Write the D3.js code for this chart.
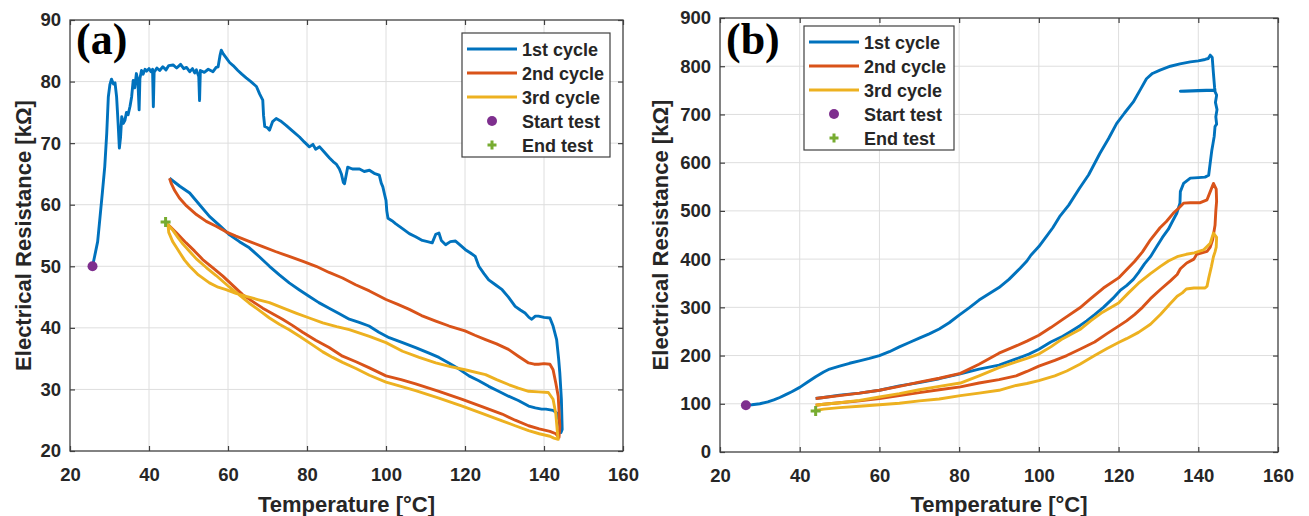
<!DOCTYPE html>
<html>
<head>
<meta charset="utf-8">
<script src="https://cdn.jsdelivr.net/npm/d3@7"></script>
<style>
  body { margin: 0; background: #fff; }
  svg { display: block; }
  text { font-family: "Liberation Sans", Arial, sans-serif; font-weight: bold; fill: #262626; }
</style>
</head>
<body>
<script>

// tick labels
var xTicks = [20, 40, 60, 80, 100, 120, 140, 160];
var yTicksA = [20, 30, 40, 50, 60, 70, 80, 90];
var yTicksB = [0, 100, 200, 300, 400, 500, 600, 700, 800, 900];
var legendLabels = ["1st cycle", "2nd cycle", "3rd cycle", "Start test", "End test"];

// panel (a) - [temperature, resistance kOhm]
var cycle1A = [[25.7,50],[26.2,51.5],[27,54],[27.6,58],[28.2,62],[28.8,66.2],[29.3,71.6],[29.7,77.5],[30.1,79.5],[30.5,80.4],[31,79.6],[31.4,79.8],[31.8,77.5],[32.2,73],[32.5,69.2],[32.8,71],[33.1,74.3],[33.5,73.2],[33.9,73.7],[34.3,75],[34.7,74.6],[35.2,76],[35.6,77.5],[36,80.2],[36.4,79],[36.8,81.3],[37.2,80],[37.5,75.4],[37.7,80.5],[38.1,81.8],[38.5,81.2],[39,82],[39.4,81.7],[40,82.1],[40.5,81.6],[40.9,82],[41.1,75.9],[41.3,81.5],[42,82.2],[42.7,81.8],[43.5,82.4],[44.3,81.9],[45,82.6],[46.1,82.7],[47,82.2],[48,82.8],[48.8,82.1],[49.5,82.3],[50.3,81.6],[51,82.1],[51.6,81.4],[52,81.9],[52.6,80.8],[52.8,76.9],[53,81.8],[54,81.5],[55,82],[56.2,81.6],[57,82.3],[57.5,82.4],[58,84.3],[58.3,85.1],[58.8,84.5],[59.6,83.8],[60.4,83.1],[61.3,82.6],[62.5,81.8],[63.5,81.2],[64.6,80.6],[65.8,80],[67.2,79.2],[68,78],[68.8,77],[69,74.5],[69.3,72.7],[70,72.5],[70.5,72.1],[71.3,73.5],[72.2,74],[73.3,73.6],[74.7,72.9],[76.3,72],[78.1,71],[79.3,70.2],[80.6,69.4],[81.5,69.8],[82.2,69],[83.2,69.4],[84.3,68.6],[85.7,67.6],[86.6,67],[87.4,66.6],[88.2,65.8],[88.7,65],[89.2,63.6],[89.5,63.4],[90.3,66.1],[91.5,65.8],[93.3,65.8],[94.5,65.4],[95.8,65.6],[97,65.1],[98.3,64.8],[98.8,63.5],[99.2,62.9],[99.7,61.5],[100,60.7],[100.2,59],[100.5,57.8],[101.5,57.4],[102.5,56.9],[104,56.2],[105.9,55.3],[107.5,54.8],[109.2,54.2],[110.5,54],[111.7,53.8],[112.6,55.2],[113.4,55.4],[114,54.2],[115.1,53.5],[116.3,54],[117.6,54.1],[118.5,53.6],[120.1,52.7],[121.3,52.2],[122.6,51.6],[123.5,50],[124.8,48.8],[126,47.8],[127.7,47],[129.4,46.2],[131,45],[132.7,43.5],[134,42.9],[135.2,42.4],[136.2,41.7],[136.9,41.4],[137.8,41.9],[138.6,41.9],[140,41.7],[141.5,41.6],[142.3,40.3],[143.2,38.1],[143.7,35],[144,32.7],[144.4,28.4],[144.6,23.5],[144.3,23],[143.8,25],[143.2,26.2],[142.3,26.6],[140.5,26.8],[139.4,26.8],[137.8,27],[136.1,27.3],[133.5,28.2],[131,28.9],[128.5,29.7],[126,30.5],[123.5,31.4],[121,32.2],[118.5,33.3],[115.9,34.3],[113.4,35.2],[110.9,35.9],[107.5,36.8],[104.2,37.6],[100.8,38.4],[98.2,39.3],[95.7,40.3],[93.2,40.9],[90.7,41.4],[88.2,42.3],[85.6,43.2],[83,44.1],[80.6,45.1],[78,46.2],[75.5,47.3],[73,48.6],[70.5,50],[68,51.5],[65.4,53],[62.9,54],[60.4,55.1],[57.9,56.6],[55.3,58.1],[52.8,60],[50.3,61.9],[47.8,63],[45.2,64.3]];

var cycle2A = [[45.2,64.3],[45.6,63.5],[46.5,62.3],[47.7,61.1],[49.5,59.8],[52,58.4],[54.5,57.3],[57,56.5],[59.5,55.6],[62,54.9],[65.5,54],[68.8,53.2],[72,52.4],[75.5,51.6],[79,50.8],[82.3,50],[85.6,49],[89,48.1],[92.3,47],[95.8,46],[100,44.6],[103,43.8],[105.9,43],[109,42],[112.6,41.1],[116,40.3],[120,39.5],[122.5,38.8],[125.2,38.1],[128,37.4],[131,36.5],[133.5,35.4],[136.1,34.3],[137.5,34.1],[138.6,34.1],[140,34.2],[141.5,34.1],[142.3,33.2],[143,31],[143.6,28.9],[144,24],[143.8,22.2],[143,22.8],[141.5,23.2],[138.8,23.6],[136.1,24.1],[132.7,25],[129.4,26],[124.3,27.2],[119.3,28.4],[113.4,29.7],[107.5,30.9],[103.8,31.6],[100,32.2],[95.8,33.5],[92.4,34.5],[89,35.4],[85.6,36.8],[82.2,38],[78.9,39.3],[76.3,40.4],[73.8,41.4],[71.3,42.3],[68.8,43.2],[66.2,44.3],[63.7,45.4],[61.2,46.9],[58.7,48.4],[56.1,49.8],[53.6,51.1],[51.5,52.5],[49.4,53.8],[47,55.4],[44.8,56.8]];

var cycle3A = [[44.8,56.8],[45,55.5],[46,54],[47,53],[47.8,52.2],[49,51],[50.3,50],[52.5,48.6],[55.3,47.3],[57.5,46.6],[59.5,46.2],[62,45.6],[64.6,45.1],[67.5,44.6],[70.5,44.1],[74,43.2],[77.2,42.4],[80.6,41.6],[84,40.8],[87.5,40.2],[90.7,39.7],[95.8,38.6],[100,37.6],[104.2,36.2],[108.4,35.2],[112.6,34.3],[116.3,33.7],[120,33.2],[125.2,32.4],[128,31.6],[131,30.8],[133.5,30.2],[136.1,29.7],[138.6,29.6],[141.1,29.5],[142.3,28.4],[143,26],[143.4,23],[143.6,21.9],[142.5,22.1],[141.5,22.4],[138.8,22.8],[136.1,23.3],[132.7,24.1],[129.4,24.9],[124.3,26.1],[119.3,27.3],[113.4,28.6],[107.5,29.8],[103.8,30.5],[100,31.2],[95.8,32.3],[92.4,33.4],[89,34.4],[86.5,35.2],[84,36.1],[81,37.4],[78.2,38.6],[75.5,39.7],[73,40.6],[70.5,41.6],[68,42.8],[65.4,44],[62.9,45.3],[60.4,46.6],[57,48.5],[54.5,49.8],[52,51.2],[50.3,52.4],[48.6,53.6],[47.3,54.7],[46.1,55.8],[44.2,57.2]];

var startA = [25.7, 50];
var endA = [44.2, 57.2];

// panel (b)
var cycle1B = [[26.5,97],[28,98],[30,100],[32,104],[33.5,108],[35,113],[36.5,119],[38,125],[40,134],[42,145],[44,156],[46,166],[47.5,172],[50,178],[52.5,184],[55,189],[57.5,194],[60,200],[62.5,208],[65,218],[67.5,227],[70,236],[72.5,245],[75,255],[77.5,268],[80,284],[82.5,299],[85,315],[87.5,328],[90,341],[92.5,358],[95.3,381],[97,396],[98,408],[100,426],[102,448],[103.5,465],[105.2,488],[107.5,512],[110.2,547],[112.5,575],[115.3,619],[117.5,650],[119.5,681],[121.5,703],[123.7,726],[125.5,752],[127,774],[128.5,785],[130.4,792],[133,800],[135.4,805],[138,809],[140,811],[141.7,814],[142.5,816],[143,823],[143.5,818],[143.8,785],[144.1,755],[144.2,750],[140,749],[136.5,748],[135.5,748],[140,750],[144,751],[144.6,740],[144.3,725],[144.7,710],[144.4,695],[144.6,680],[144.2,675],[144,655],[143.7,640],[143.4,626],[143,600],[142.6,574],[141.7,570],[140,569],[138,568],[136.3,557],[135.5,540],[135.4,516],[134.6,495],[133.5,478],[132.5,462],[131,445],[129.5,425],[128,405],[126.5,390],[125,372],[123.7,358],[122,345],[120.4,335],[118.5,318],[116.2,300],[114,285],[112,272],[110.3,262],[108,250],[106,240],[103,228],[100,213],[97.5,203],[94.3,193],[90,180],[85,172],[80.3,162],[75,152],[70,144],[65,137],[60,128],[55,122],[50,118],[46,113],[44,111]];

var cycle2B = [[44,111],[46,113],[50,117],[55,122],[60,128],[65,136],[70,145],[75,153],[80.3,163],[85,182],[90,205],[94.3,220],[97,230],[100,242],[103,258],[106,275],[110.3,299],[113,318],[116.2,340],[120,361],[122,378],[124,395],[126,415],[128,440],[130.4,465],[132,478],[133.7,495],[135,505],[136.3,516],[138,517],[140.5,517],[142.2,523],[143,540],[143.8,557],[144.5,545],[144.6,520],[144.4,500],[144.2,470],[143.6,440],[143,425],[142.2,416],[139.6,410],[138.9,400],[137.1,392],[135.5,380],[134.7,368],[133,355],[130.5,337],[128,318],[126,300],[124,285],[122,272],[120,261],[117,245],[114,228],[110.3,213],[107,200],[104,190],[100,178],[97,167],[94.3,158],[90,150],[85,143],[80.3,135],[75,129],[70,123],[65,117],[60,111],[55,106],[50,102],[46,99],[44,97]];

var cycle3B = [[44,97],[46,99],[50,102],[55,107],[60,114],[65,121],[70,129],[75,136],[80.3,143],[85,158],[90,175],[94.3,187],[97,194],[100,203],[103,218],[106,235],[110.3,254],[113,272],[116,290],[120,309],[122.5,330],[125,350],[128,370],[130.5,385],[132.5,396],[134.7,405],[137,410],[139,413],[141.3,419],[143,433],[143.8,454],[144.6,445],[144.5,425],[144.2,415],[143.8,405],[143.3,385],[142.6,360],[142.2,344],[141.7,340],[140,340],[138.9,340],[137,338],[136,330],[134.7,323],[133,308],[130.5,285],[128,265],[125,248],[122,235],[120,227],[117,214],[114,200],[110.3,182],[107,168],[104,158],[100,148],[97,142],[94.3,138],[90,128],[85,122],[80.3,117],[75,110],[70,106],[65,101],[60,98],[55,95],[50,92],[46,89],[44,86]];

var startB = [26.5, 97];
var endB = [44, 85];

var colors = ["#0072BD", "#D95319", "#EDB120", "#7E2F8E", "#77AC30"];

var w = 1309;
var h = 516;

var svg = d3.select("body")
  .append("svg")
  .attr("width", w)
  .attr("height", h);

// small "+" marker drawn with strokes
function plus(sel, cx, cy, r) {
  sel.append("path")
    .attr("d", "M" + (cx - r) + "," + cy + "H" + (cx + r) + "M" + cx + "," + (cy - r) + "V" + (cy + r))
    .attr("stroke", colors[4]).attr("stroke-width", 3).attr("fill", "none");
}

function drawPanel(p) {
  var x = d3.scaleLinear().domain([20, 160]).range([p.left, p.right]);
  var y = d3.scaleLinear().domain(p.yDomain).range([p.bottom, p.top]);
  var g = svg.append("g");

  // grid
  g.selectAll(".gx").data(xTicks.slice(1, -1)).enter().append("line")
    .attr("x1", function(d) { return x(d); }).attr("x2", function(d) { return x(d); })
    .attr("y1", p.top).attr("y2", p.bottom)
    .attr("stroke", "#dedede").attr("stroke-width", 1);
  g.selectAll(".gy").data(p.yTicks.slice(1, -1)).enter().append("line")
    .attr("y1", function(d) { return y(d); }).attr("y2", function(d) { return y(d); })
    .attr("x1", p.left).attr("x2", p.right)
    .attr("stroke", "#dedede").attr("stroke-width", 1);

  // axes, ticks pointing inside
  var ax = g.append("g").attr("transform", "translate(0," + p.bottom + ")")
    .call(d3.axisBottom(x).tickValues(xTicks).tickSize(-5).tickPadding(17));
  var ay = g.append("g").attr("transform", "translate(" + p.left + ",0)")
    .call(d3.axisLeft(y).tickValues(p.yTicks).tickSize(-5).tickPadding(9));
  var at = g.append("g").attr("transform", "translate(0," + p.top + ")")
    .call(d3.axisTop(x).tickValues(xTicks).tickSize(-5).tickFormat(""));
  var ar = g.append("g").attr("transform", "translate(" + p.right + ",0)")
    .call(d3.axisRight(y).tickValues(p.yTicks).tickSize(-5).tickFormat(""));
  [ax, ay, at, ar].forEach(function(a) {
    a.select(".domain").remove();
    a.selectAll("line").attr("stroke", "#404040").attr("stroke-width", 1.2);
    a.selectAll("text").attr("font-size", "18.5px").attr("fill", "#262626");
  });

  g.append("rect")
    .attr("x", p.left).attr("y", p.top)
    .attr("width", p.right - p.left).attr("height", p.bottom - p.top)
    .attr("fill", "none").attr("stroke", "#404040").attr("stroke-width", 1.3);

  // curves
  var line = d3.line()
    .x(function(d) { return x(d[0]); })
    .y(function(d) { return y(d[1]); });
  p.cycles.forEach(function(c, i) {
    g.append("path")
      .attr("d", line(c))
      .attr("fill", "none")
      .attr("stroke", colors[i])
      .attr("stroke-width", 2.9)
      .attr("stroke-linejoin", "round");
  });

  g.append("circle")
    .attr("cx", x(p.start[0])).attr("cy", y(p.start[1]))
    .attr("r", 5).attr("fill", colors[3]);
  plus(g, x(p.end[0]), y(p.end[1]), 5);

  // axis titles
  g.append("text")
    .attr("x", (p.left + p.right) / 2).attr("y", 512)
    .attr("text-anchor", "middle").attr("font-size", "22px")
    .text("Temperature [°C]");
  g.append("text")
    .attr("transform", "translate(" + p.yTitleX + "," + (p.top + p.bottom) / 2 + ") rotate(-90)")
    .attr("text-anchor", "middle").attr("font-size", "22px")
    .text("Electrical Resistance [kΩ]");

  // panel letter
  g.append("text")
    .attr("x", p.left + 6).attr("y", 54)
    .style("font-family", "'Liberation Serif', 'Times New Roman', serif")
    .style("fill", "#000")
    .attr("font-size", "44px")
    .text(p.letter);

  // legend
  var lg = g.append("g").attr("transform", "translate(" + p.legX + "," + p.legY + ")");
  lg.append("rect")
    .attr("width", p.legW).attr("height", 124)
    .attr("fill", "#fff").attr("stroke", "#404040").attr("stroke-width", 1.2);
  var items = lg.selectAll(".item").data(legendLabels).enter().append("g")
    .attr("transform", function(d, i) { return "translate(0," + (16 + i * 24) + ")"; });
  items.filter(function(d, i) { return i < 3; }).append("line")
    .attr("x1", 5).attr("x2", 55).attr("y1", 0).attr("y2", 0)
    .attr("stroke", function(d, i) { return colors[i]; })
    .attr("stroke-width", 3);
  items.filter(function(d, i) { return i == 3; }).append("circle")
    .attr("cx", 30).attr("cy", 0).attr("r", 5).attr("fill", colors[3]);
  plus(items.filter(function(d, i) { return i == 4; }), 30, 0, 4.5);
  items.append("text")
    .attr("x", 60).attr("y", 6.5).attr("font-size", "18px")
    .text(function(d) { return d; });
}

drawPanel({
  left: 70, right: 623, top: 20, bottom: 451,
  yDomain: [20, 90], yTicks: yTicksA,
  cycles: [cycle1A, cycle2A, cycle3A],
  start: startA, end: endA,
  yTitleX: 31, letter: "(a)",
  legX: 462, legY: 33, legW: 148
});

drawPanel({
  left: 720, right: 1278, top: 18, bottom: 452,
  yDomain: [0, 900], yTicks: yTicksB,
  cycles: [cycle1B, cycle2B, cycle3B],
  start: startB, end: endB,
  yTitleX: 668, letter: "(b)",
  legX: 804, legY: 26, legW: 150
});

</script>
</body>
</html>
